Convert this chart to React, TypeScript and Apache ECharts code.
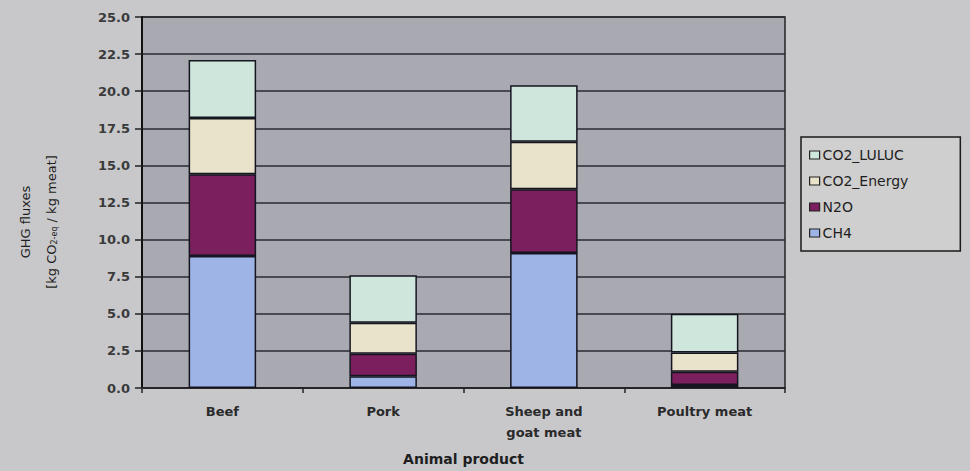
import React, { useEffect, useRef } from "react";
import * as echarts from "echarts";

const categories = ["Beef", "Pork", "Sheep and\ngoat meat", "Poultry meat"];
const ch4 = [8.9, 0.8, 9.1, 0.2];
const n2o = [5.5, 1.5, 4.3, 0.9];
const co2Energy = [3.8, 2.1, 3.2, 1.3];
const co2Luluc = [3.9, 3.2, 3.8, 2.6];
const seriesNames = ["CH4", "N2O", "CO2_Energy", "CO2_LULUC"];
const legendOrder = ["CO2_LULUC", "CO2_Energy", "N2O", "CH4"];
const yTicks = { min: 0, max: 25, interval: 2.5 };

const colors = ["#9fb4e6", "#7c1f5e", "#e9e3cb", "#cfe6dc"];

export default function App() {
  const ref = useRef<HTMLDivElement>(null);
  useEffect(() => {
    document.body.style.margin = "0";
    const chart = echarts.init(ref.current!, undefined, { renderer: "svg" });
    const values = [ch4, n2o, co2Energy, co2Luluc];
    const font = "'DejaVu Sans', Verdana, sans-serif";
    chart.setOption({
      animation: false,
      backgroundColor: "#c8c8ca",
      textStyle: { fontFamily: font },
      grid: {
        left: 142,
        right: 185,
        top: 17,
        bottom: 82,
        show: true,
        backgroundColor: "#a9a9b1",
        borderColor: "#222228",
        borderWidth: 1.5,
      },
      legend: {
        data: legendOrder,
        orient: "vertical",
        left: 801,
        top: 137,
        padding: [11, 52, 11, 8],
        itemGap: 12,
        itemWidth: 10,
        itemHeight: 8,
        icon: "rect",
        backgroundColor: "#cfcfd0",
        borderColor: "#1a1a1a",
        borderWidth: 1.5,
        textStyle: { fontSize: 14, color: "#1e1e1e", fontFamily: font, padding: [0, 0, 0, -2] },
        itemStyle: { borderColor: "#222", borderWidth: 1.2 },
      },
      xAxis: {
        type: "category",
        data: categories,
        name: "Animal product",
        nameLocation: "middle",
        nameGap: 64,
        nameTextStyle: { fontSize: 14, fontWeight: "bold", color: "#1e1e1e", fontFamily: font },
        axisLine: { lineStyle: { color: "#222", width: 1.5 } },
        axisTick: { show: true, length: 5, lineStyle: { color: "#222", width: 1.5 } },
        axisLabel: {
          fontSize: 13,
          fontWeight: "bold",
          color: "#2a2a2a",
          margin: 13,
          lineHeight: 21,
          interval: 0,
          fontFamily: font,
        },
      },
      yAxis: {
        type: "value",
        min: yTicks.min,
        max: yTicks.max,
        interval: yTicks.interval,
        axisLine: { show: true, lineStyle: { color: "#111", width: 2 } },
        axisTick: { show: true, length: 7, lineStyle: { color: "#222", width: 1.5 } },
        axisLabel: {
          fontSize: 13,
          color: "#3a3a3a",
          fontWeight: "bold",
          margin: 12,
          fontFamily: font,
          formatter: (v: number) => v.toFixed(1),
        },
        splitLine: { show: true, lineStyle: { color: "#2a2a32", width: 1.5 } },
      },
      series: seriesNames.map((name, i) => ({
        name,
        type: "bar",
        stack: "total",
        barWidth: "42%",
        data: values[i],
        itemStyle: { color: colors[i], borderColor: "#15151f", borderWidth: 1.5 },
      })),
      graphic: [
        {
          type: "text",
          x: 25,
          y: 222,
          rotation: Math.PI / 2,
          style: {
            text: "GHG fluxes",
            fontSize: 13,
            fontFamily: font,
            fill: "#1e1e1e",
            align: "center",
            verticalAlign: "middle",
          },
        },
        {
          type: "text",
          x: 51,
          y: 222,
          rotation: Math.PI / 2,
          style: {
            text: "[kg CO{sub|2-eq} / kg meat]",
            fontSize: 13,
            fontFamily: font,
            fill: "#1e1e1e",
            align: "center",
            verticalAlign: "middle",
            rich: { sub: { fontSize: 8, fontFamily: font, fill: "#1e1e1e", padding: [6, 0, 0, 0] } },
          },
        },
      ],
    });
    return () => chart.dispose();
  }, []);
  return <div ref={ref} style={{ width: 970, height: 471 }} />;
}
